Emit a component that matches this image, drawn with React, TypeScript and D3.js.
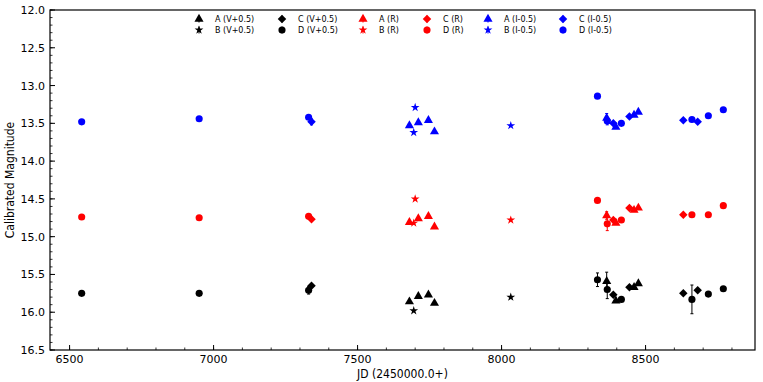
import React from "react";
import * as d3 from "d3";

type P = [number, number, number?];

// Star A (triangle)
const A_V: P[] = [[7680, 15.86], [7711, 15.79], [7746, 15.77], [7767, 15.88], [8365, 15.59, 0.12], [8397, 15.85], [8460, 15.67], [8475, 15.62]];
const A_R: P[] = [[7680, 14.81], [7711, 14.76], [7746, 14.73], [7767, 14.87], [8365, 14.72, 0.05], [8397, 14.82], [8460, 14.65], [8475, 14.62]];
const A_I: P[] = [[7680, 13.53], [7711, 13.49], [7746, 13.46], [7767, 13.61], [8365, 13.43, 0.06], [8397, 13.55], [8460, 13.39], [8475, 13.35]];
// Star B (star)
const B_V: P[] = [[7695, 15.98], [8032, 15.8]];
const B_R: P[] = [[7700, 14.5], [7695, 14.82], [8032, 14.78]];
const B_I: P[] = [[7700, 13.29], [7695, 13.62], [8032, 13.53]];
// Star C (diamond)
const C_V: P[] = [[7340, 15.65], [8388, 15.77], [8444, 15.67], [8631, 15.75], [8681, 15.71]];
const C_R: P[] = [[7340, 14.77], [8388, 14.78], [8444, 14.62], [8631, 14.71]];
const C_I: P[] = [[7340, 13.48, 0.04], [8388, 13.5], [8444, 13.41], [8631, 13.46], [8681, 13.48]];
// Star D (circle)
const D_V: P[] = [[6542, 15.75], [6950, 15.75], [7330, 15.71, 0.05], [8333, 15.57, 0.09], [8367, 15.7, 0.12], [8416, 15.83], [8661, 15.83, 0.19], [8718, 15.76], [8770, 15.69]];
const D_R: P[] = [[6542, 14.74], [6950, 14.75], [7330, 14.73], [8333, 14.52], [8367, 14.83, 0.09], [8416, 14.78], [8661, 14.71], [8718, 14.71], [8770, 14.59]];
const D_I: P[] = [[6542, 13.48], [6950, 13.44], [7330, 13.42], [8333, 13.14], [8367, 13.47, 0.05], [8416, 13.5], [8661, 13.45], [8718, 13.4], [8770, 13.32]];

const X_TICKS = [6500, 7000, 7500, 8000, 8500];
const Y_TICKS = [12.0, 12.5, 13.0, 13.5, 14.0, 14.5, 15.0, 15.5, 16.0, 16.5];

type Shape = "tri" | "star" | "diamond" | "circle";
const SERIES: { label: string; data: P[]; color: string; shape: Shape }[] = [
  { label: "A (V+0.5)", data: A_V, color: "#000000", shape: "tri" },
  { label: "B (V+0.5)", data: B_V, color: "#000000", shape: "star" },
  { label: "C (V+0.5)", data: C_V, color: "#000000", shape: "diamond" },
  { label: "D (V+0.5)", data: D_V, color: "#000000", shape: "circle" },
  { label: "A (R)", data: A_R, color: "#ff0000", shape: "tri" },
  { label: "B (R)", data: B_R, color: "#ff0000", shape: "star" },
  { label: "C (R)", data: C_R, color: "#ff0000", shape: "diamond" },
  { label: "D (R)", data: D_R, color: "#ff0000", shape: "circle" },
  { label: "A (I-0.5)", data: A_I, color: "#0000ff", shape: "tri" },
  { label: "B (I-0.5)", data: B_I, color: "#0000ff", shape: "star" },
  { label: "C (I-0.5)", data: C_I, color: "#0000ff", shape: "diamond" },
  { label: "D (I-0.5)", data: D_I, color: "#0000ff", shape: "circle" },
];

const W = 763, H = 382;
const L = 50, R = 755, T = 10, B = 350;

const x = d3.scaleLinear().domain([6432, 8880]).range([L, R]);
const y = d3.scaleLinear().domain([12, 16.5]).range([T, B]);

const symPath = (s: Shape): string => {
  if (s === "tri") return d3.symbol(d3.symbolTriangle, 36)()!;
  if (s === "star") return d3.symbol(d3.symbolStar, 24)()!;
  if (s === "diamond") return d3.symbol(d3.symbolSquare, 36)()!;
  return d3.symbol(d3.symbolCircle, 40)()!;
};

function Marker({ cx, cy, shape, color }: { cx: number; cy: number; shape: Shape; color: string }) {
  const rot = shape === "diamond" ? " rotate(45)" : "";
  return <path d={symPath(shape)} transform={`translate(${cx},${cy})${rot}`} fill={color} />;
}

export default function App() {
  const font = "DejaVu Sans, sans-serif";
  const condensed = "DejaVu Sans Condensed, DejaVu Sans, sans-serif";
  const xMinor = d3.range(6500, 8900, 100);
  const yMinor = d3.range(12, 16.5001, 0.1);
  const legendCols = [
    [0, 1], [2, 3], [4, 5], [6, 7], [8, 9], [10, 11],
  ];
  const colMarkerX = [199, 282, 363, 427, 488, 563];
  return (
    <svg width={W} height={H} style={{ position: "absolute", left: 0, top: 0, background: "#fff" }}>
      <rect x={0} y={0} width={W} height={H} fill="#fff" />
      {/* minor ticks */}
      {xMinor.map((v) => (
        <line key={"xm" + v} x1={x(v)} x2={x(v)} y1={B} y2={B - 2.5} stroke="#000" strokeWidth={0.8} />
      ))}
      {X_TICKS.map((v) => (
        <g key={"xt" + v}>
          <line x1={x(v)} x2={x(v)} y1={B} y2={B - 5} stroke="#000" strokeWidth={1} />
          <text x={x(v)} y={B + 13} textAnchor="middle" fontSize={11} fontFamily={font}>{v}</text>
        </g>
      ))}
      {yMinor.map((v, i) => (
        <line key={"ym" + i} x1={L} x2={L + 2.5} y1={y(v)} y2={y(v)} stroke="#000" strokeWidth={0.8} />
      ))}
      {Y_TICKS.map((v) => (
        <g key={"yt" + v}>
          <line x1={L} x2={L + 5} y1={y(v)} y2={y(v)} stroke="#000" strokeWidth={1} />
          <text x={L - 5} y={y(v) + 4} textAnchor="end" fontSize={11} fontFamily={font}>{v.toFixed(1)}</text>
        </g>
      ))}
      {/* data */}
      {SERIES.map((s, si) => (
        <g key={"s" + si}>
          {s.data.map((p, i) => (
            <g key={i}>
              {p[2] ? (
                <g stroke={s.color} strokeWidth={1}>
                  <line x1={x(p[0])} x2={x(p[0])} y1={y(p[1] - p[2])} y2={y(p[1] + p[2])} />
                  <line x1={x(p[0]) - 1.5} x2={x(p[0]) + 1.5} y1={y(p[1] - p[2])} y2={y(p[1] - p[2])} />
                  <line x1={x(p[0]) - 1.5} x2={x(p[0]) + 1.5} y1={y(p[1] + p[2])} y2={y(p[1] + p[2])} />
                </g>
              ) : null}
              <Marker cx={x(p[0])} cy={y(p[1])} shape={s.shape} color={s.color} />
            </g>
          ))}
        </g>
      ))}
      {/* legend */}
      {legendCols.map((col, ci) =>
        col.map((si, ri) => {
          const s = SERIES[si];
          const my = 19 + ri * 11;
          const mx = colMarkerX[ci];
          return (
            <g key={"lg" + si}>
              <line x1={mx} x2={mx} y1={my - 3.5} y2={my + 3.5} stroke={s.color} strokeWidth={1} />
              <Marker cx={mx} cy={my} shape={s.shape} color={s.color} />
              <text x={mx + 16} y={my + 3} fontSize={8} fontFamily={font}>{s.label}</text>
            </g>
          );
        })
      )}
      {/* frame */}
      <rect x={L} y={T} width={R - L} height={B - T} fill="none" stroke="#000" strokeWidth={1.2} />
      <text x={(L + R) / 2} y={378} textAnchor="middle" fontSize={12} fontFamily={condensed} fontStretch="condensed">JD (2450000.0+)</text>
      <text transform={`translate(14,${(T + B) / 2}) rotate(-90)`} textAnchor="middle" fontSize={12} fontFamily={condensed} fontStretch="condensed">Calibrated Magnitude</text>
    </svg>
  );
}
